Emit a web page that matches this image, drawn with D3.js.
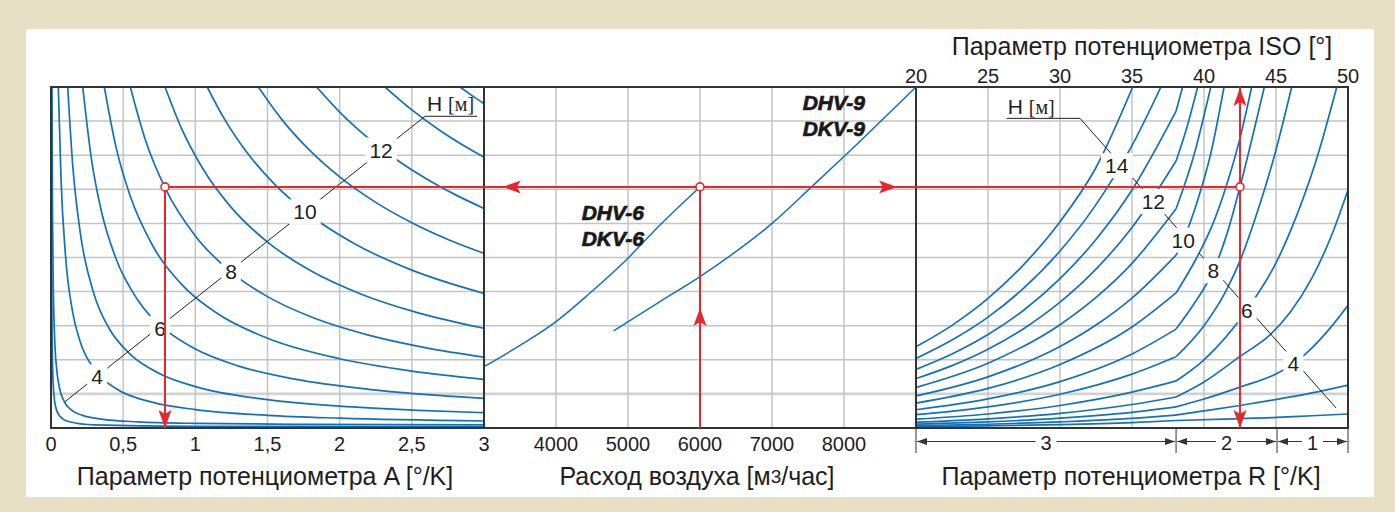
<!DOCTYPE html>
<html>
<head>
<meta charset="utf-8">
<script src="https://cdn.jsdelivr.net/npm/d3@7"></script>
<style>
  body { margin: 0; background: #e8e0c4; }
  svg { display: block; font-family: "Liberation Sans", Arial, sans-serif; }
</style>
</head>
<body>
<svg id="chart" width="1395" height="512"></svg>
<script>
// ---------- data ----------
const aTicks = [0, 0.5, 1, 1.5, 2, 2.5, 3];
const aTickLabels = ["0", "0,5", "1", "1,5", "2", "2,5", "3"];
const flowTicks = [4000, 5000, 6000, 7000, 8000];
const isoTicks = [20, 25, 30, 35, 40, 45, 50];
const yGrid = [1, 2, 3, 4, 5, 6, 7, 8, 9];
const rZones = [
  { label: "3", from: 20, to: 38.06 },
  { label: "2", from: 38.06, to: 45.07 },
  { label: "1", from: 45.07, to: 50 }
];

// Left panel: head H [m] vs potentiometer A [°/K]
const leftCurves = [
  { h: 2,  pts: [[0.002,10],[0.004,5.0],[0.008,2.5],[0.015,1.3],[0.03,0.66],[0.06,0.35],[0.12,0.19],[0.3,0.09],[1,0.05],[3,0.037]] },
  { h: 3,  pts: [[0.0066,10],[0.01,6.57],[0.015,4.40],[0.025,2.67],[0.04,1.70],[0.06,1.15],[0.09,0.79],[0.14,0.53],[0.22,0.37],[0.35,0.26],[0.6,0.18],[1.0,0.135],[1.8,0.106],[3,0.092]] },
  { h: 4,  pts: [[0.0506,10],[0.07,7.24],[0.1,5.08],[0.15,3.40],[0.2,2.56],[0.3,1.72],[0.45,1.157],[0.7,0.757],[1.0,0.541],[1.5,0.373],[2.0,0.289],[3.0,0.205]] },
  { h: 5,  pts: [[0.1157,10],[0.15,7.73],[0.2,5.81],[0.3,3.90],[0.4,2.94],[0.55,2.16],[0.75,1.60],[1.0,1.215],[1.5,0.832],[2.0,0.64],[2.5,0.526],[3,0.449]] },
  { h: 6,  pts: [[0.22,10],[0.28,7.89],[0.35,6.34],[0.45,4.97],[0.6,3.76],[0.8,2.86],[1.0,2.316],[1.3,1.816],[1.7,1.424],[2.2,1.134],[3,0.871]] },
  { h: 7,  pts: [[0.3693,10],[0.45,8.245],[0.55,6.787],[0.7,5.381],[0.9,4.235],[1.15,3.363],[1.5,2.631],[2.0,2.03],[2.5,1.669],[3,1.428]] },
  { h: 8,  pts: [[0.5495,10],[0.65,8.5],[0.8,6.96],[1.0,5.63],[1.25,4.564],[1.5,3.853],[1.8,3.261],[2.2,2.723],[2.6,2.35],[3,2.077]] },
  { h: 9,  pts: [[0.79,10],[0.9,8.823],[1.05,7.619],[1.25,6.463],[1.5,5.452],[1.8,4.609],[2.15,3.923],[2.55,3.37],[3,2.924]] },
  { h: 10, pts: [[1.0824,10],[1.2,9.072],[1.35,8.123],[1.55,7.143],[1.8,6.224],[2.1,5.411],[2.5,4.63],[3,3.947]] },
  { h: 11, pts: [[1.4363,10],[1.6,9.043],[1.8,8.11],[2.0,7.363],[2.25,6.616],[2.5,6.019],[2.75,5.53],[3,5.123]] },
  { h: 12, pts: [[1.84,10],[2.0,9.265],[2.2,8.495],[2.4,7.853],[2.6,7.309],[2.8,6.844],[3,6.44]] },
  { h: 13, pts: [[2.314,10],[2.5,9.329],[2.7,8.711],[2.85,8.304],[3,7.938]] },
  { h: 14, pts: [[2.834,10],[2.92,9.74],[3,9.513]] }
];
const leftLabels = [
  { h: 12, a: 2.287, y: 8.15 },
  { h: 10, a: 1.76,  y: 6.34 },
  { h: 8,  a: 1.247, y: 4.60 },
  { h: 6,  a: 0.755, y: 2.93 },
  { h: 4,  a: 0.319, y: 1.50 }
];
const leftLeader = [[0.097, 0.773], [2.592, 9.141], [2.952, 9.141]];

// Middle panel: air flow [m3/h]
const flowCurves = [
  { name: ["DHV-6", "DKV-6"], text: [4357, 6.10], pts: [[3000,1.80],[3500,2.42],[4000,3.12],[4472,3.96],[5000,4.98],[5400,5.86],[6000,7.07]] },
  { name: ["DHV-9", "DKV-9"], text: [7426, 9.33], pts: [[4800,2.85],[5400,3.65],[6000,4.44],[7000,6.0],[7550,7.07],[8000,7.96],[9000,10]] }
];

// Right panel: head H [m] vs ISO setting [°]; slope changes at the R zone boundary
const rightCurves = [
  { h: 15, pts: [[20,2.38],[22.5,3.01],[25,3.80],[27.5,4.80],[30,6.05],[32.5,7.64],[35.05,10]] },
  { h: 14, pts: [[20,2.04],[22.5,2.58],[25,3.25],[27.5,4.11],[30,5.19],[32.5,6.55],[35,8.28],[37.01,10]] },
  { h: 13, pts: [[20,1.72],[22.5,2.17],[25,2.74],[27.5,3.46],[30,4.38],[32.5,5.53],[35,6.98],[38.06,9.29],[38.51,10]] },
  { h: 12, pts: [[20,1.45],[22.5,1.83],[25,2.31],[27.5,2.92],[30,3.69],[32.5,4.66],[35,5.88],[38.06,7.83],[38.8,8.8],[39.56,10]] },
  { h: 11, pts: [[20,1.19],[25,1.90],[30,3.03],[32.5,3.83],[35,4.83],[38.06,6.43],[39.3,8.0],[40.47,10]] },
  { h: 10, pts: [[20,0.94],[25,1.50],[30,2.39],[32.5,3.02],[35,3.81],[38.06,5.07],[38.56,5.51],[39.5,6.6],[40.5,8.1],[41.39,10]] },
  { h: 9,  pts: [[20,0.73],[25,1.16],[30,1.86],[35,2.96],[38.06,3.96],[39.5,5.0],[40.63,6.0],[41.7,7.3],[42.5,8.5],[43.31,10]] },
  { h: 8,  pts: [[20,0.535],[25,0.853],[30,1.36],[35,2.17],[38.06,2.9],[39.4,3.7],[40.65,4.61],[41.6,5.7],[42.5,7.07],[43.4,8.6],[44.19,10]] },
  { h: 7,  pts: [[20,0.39],[25,0.62],[30,0.99],[35,1.58],[38.06,2.09],[40,3.0],[41.5,4.0],[42.5,4.9],[43.6,6.2],[44.9,8.0],[46.09,10]] },
  { h: 6,  pts: [[20,0.26],[25,0.41],[30,0.66],[35,1.05],[38.06,1.38],[40,2.0],[42.97,3.46],[45.07,4.9],[46.5,6.3],[47.9,8.0],[49.22,10]] },
  { h: 5,  pts: [[20,0.17],[25,0.27],[30,0.43],[35,0.69],[38.06,0.91],[40,1.35],[42.5,2.1],[44.58,2.73],[46,3.4],[47.5,4.4],[49,5.8],[50,6.98]] },
  { h: 4,  pts: [[20,0.115],[25,0.18],[30,0.29],[35,0.46],[38.06,0.62],[40,0.85],[42.5,1.2],[45.07,1.6],[46.2,1.88],[47.5,2.35],[48.8,2.95],[50,3.6]] },
  { h: 3,  pts: [[20,0.07],[25,0.11],[30,0.18],[35,0.28],[38.06,0.38],[40,0.5],[42.5,0.66],[45.07,0.84],[47.5,1.03],[50,1.26]] },
  { h: 2,  pts: [[20,0.04],[25,0.065],[30,0.10],[35,0.16],[38.06,0.22],[42,0.27],[45.07,0.31],[47.5,0.36],[50,0.41]] }
];
const rightLabels = [
  { h: 14, iso: 33.94, y: 7.69 },
  { h: 12, iso: 36.48, y: 6.64 },
  { h: 10, iso: 38.56, y: 5.51 },
  { h: 8,  iso: 40.65, y: 4.61 },
  { h: 6,  iso: 42.97, y: 3.46 },
  { h: 4,  iso: 46.2,  y: 1.88 }
];
const rightLeader = [[26.3, 9.08], [31.39, 9.08], [49.17, 0.587]];

// Worked example: A = 0.79 °/K, 6000 m3/h, H = 8 m, ISO = 42.5°
const example = { a: 0.79, flow: 6000, iso: 42.5, y: 7.07, upArrowY: 3.52, leftArrowFlow: 3260, rightArrowFlow: 8736 };

// ---------- layout ----------
const plotTop = 87, plotBottom = 428;
const y = d3.scaleLinear().domain([0, 10]).range([plotBottom, plotTop]);
const xA = d3.scaleLinear().domain([0, 3]).range([51, 484]);
const xF = d3.scaleLinear().domain([3000, 9000]).range([484, 916]);
const xI = d3.scaleLinear().domain([20, 50]).range([916, 1348]);

const BLUE = "#1471b8", RED = "#e8262e", GRID = "#c4c4c4", INK = "#1e1e1e";

const svg = d3.select("#chart");
svg.append("rect").attr("width", 1395).attr("height", 512).attr("fill", "#e8e0c4");
svg.append("rect").attr("x", 26).attr("y", 29).attr("width", 1348).attr("height", 468).attr("fill", "#fff");

const defs = svg.append("defs");
[["clipL", xA], ["clipM", xF], ["clipR", xI]].forEach(([id, sc]) => {
  defs.append("clipPath").attr("id", id).append("rect")
    .attr("x", sc.range()[0]).attr("y", plotTop).attr("width", sc.range()[1] - sc.range()[0]).attr("height", plotBottom - plotTop);
});

// grid
const grid = svg.append("g").attr("stroke", GRID).attr("stroke-width", 1.5);
grid.selectAll(".hy").data(yGrid).join("line").attr("class", "hy")
  .attr("x1", 51).attr("x2", 1348).attr("y1", d => y(d)).attr("y2", d => y(d))
  .attr("stroke", d => d === 1 ? "#d2d2d2" : GRID)
  .attr("stroke-width", d => d === 1 ? 2.6 : 1.5);
grid.selectAll(".va").data(aTicks.slice(1, -1)).join("line").attr("class", "va")
  .attr("x1", d => xA(d)).attr("x2", d => xA(d)).attr("y1", plotTop).attr("y2", plotBottom);
grid.selectAll(".vf").data(flowTicks).join("line").attr("class", "vf")
  .attr("x1", d => xF(d)).attr("x2", d => xF(d)).attr("y1", plotTop).attr("y2", plotBottom);
grid.selectAll(".vi").data(isoTicks.slice(1, -1)).join("line").attr("class", "vi")
  .attr("x1", d => xI(d)).attr("x2", d => xI(d)).attr("y1", plotTop).attr("y2", plotBottom);

// curves
const lineA = d3.line().x(d => xA(d[0])).y(d => y(d[1])).curve(d3.curveMonotoneX);
const lineF = d3.line().x(d => xF(d[0])).y(d => y(d[1])).curve(d3.curveMonotoneX);
const lineI = d3.line().x(d => xI(d[0])).y(d => y(d[1])).curve(d3.curveMonotoneX);

svg.append("g").attr("clip-path", "url(#clipL)").selectAll("path").data(leftCurves).join("path")
  .attr("d", d => lineA(d.pts)).attr("fill", "none").attr("stroke", BLUE).attr("stroke-width", 1.7);
svg.append("g").attr("clip-path", "url(#clipM)").selectAll("path").data(flowCurves).join("path")
  .attr("d", d => lineF(d.pts)).attr("fill", "none").attr("stroke", BLUE).attr("stroke-width", 1.5);

// right curves: each drawn as two smooth pieces meeting at the zone-3/zone-2 boundary
const kink = rZones[0].to;
const rightPieces = [];
rightCurves.forEach(c => {
  const a = c.pts.filter(p => p[0] <= kink), b = c.pts.filter(p => p[0] >= kink);
  if (a.length > 1) rightPieces.push(a);
  if (b.length > 1) rightPieces.push(b);
});
svg.append("g").attr("clip-path", "url(#clipR)").selectAll("path").data(rightPieces).join("path")
  .attr("d", d => lineI(d)).attr("fill", "none").attr("stroke", BLUE).attr("stroke-width", 1.7)
  .attr("stroke-linejoin", "round");

// leader lines for H labels
const leaderL = d3.line().x(d => xA(d[0])).y(d => y(d[1]));
const leaderR = d3.line().x(d => xI(d[0])).y(d => y(d[1]));
svg.append("path").attr("d", leaderL(leftLeader)).attr("fill", "none").attr("stroke", "#222").attr("stroke-width", 1);
svg.append("path").attr("d", leaderR(rightLeader)).attr("fill", "none").attr("stroke", "#222").attr("stroke-width", 1);

// label with white knock-out background
function knockLabel(g, x, yy, txt, size, padX, padY) {
  const grp = g.append("g");
  const bg = grp.append("rect").attr("fill", "#fff");
  const t = grp.append("text").attr("x", x).attr("y", yy).attr("text-anchor", "middle")
    .attr("dominant-baseline", "central").attr("font-size", size).attr("fill", INK).text(txt);
  const b = t.node().getBBox();
  bg.attr("x", b.x - padX).attr("y", b.y - padY).attr("width", b.width + 2 * padX).attr("height", b.height + 2 * padY);
  return grp;
}
const labG = svg.append("g");
leftLabels.forEach(d => knockLabel(labG, xA(d.a), y(d.y), d.h, 21, 4, 1));
rightLabels.forEach(d => knockLabel(labG, xI(d.iso), y(d.y), d.h, 21, 4, 1));

// "H [м]" captions
function hCaption(x, yy, anchor) {
  const t = svg.append("text").attr("x", x).attr("y", yy).attr("font-size", 21).attr("fill", INK)
    .attr("text-anchor", anchor);
  t.append("tspan").text("H ");
  t.append("tspan").attr("font-family", "Liberation Serif, serif").attr("font-size", 20).text("[м]");
}
hCaption(xA(leftLeader[2][0]) - 3, y(leftLeader[1][1]) - 5, "end");
hCaption(xI(rightLeader[0][0]) + 1, y(rightLeader[0][1]) - 4, "start");

// model names
flowCurves.forEach(d => {
  const t = svg.append("text").attr("x", xF(d.text[0])).attr("y", y(d.text[1]))
    .attr("font-size", 21).attr("font-weight", "bold").attr("font-style", "italic")
    .attr("fill", "#1a1a1a").attr("stroke", "#1a1a1a").attr("stroke-width", 0.7);
  t.append("tspan").text(d.name[0]);
  t.append("tspan").attr("x", xF(d.text[0])).attr("dy", 26).text(d.name[1]);
});

// panel frames
const frame = svg.append("g").attr("fill", "none").attr("stroke", "#333").attr("stroke-width", 2);
frame.append("rect").attr("x", 51).attr("y", plotTop).attr("width", 1348 - 51).attr("height", plotBottom - plotTop);
frame.append("line").attr("x1", 484).attr("x2", 484).attr("y1", plotTop).attr("y2", plotBottom);
frame.append("line").attr("x1", 916).attr("x2", 916).attr("y1", plotTop).attr("y2", plotBottom);

// red example path
const red = svg.append("g");
const ex = xA(example.a), ey = y(example.y), fx = xF(example.flow), ix = xI(example.iso);
red.append("line").attr("x1", ex).attr("x2", ix).attr("y1", ey).attr("y2", ey).attr("stroke", RED).attr("stroke-width", 2);
red.append("line").attr("x1", ex).attr("x2", ex).attr("y1", ey).attr("y2", plotBottom).attr("stroke", RED).attr("stroke-width", 2);
red.append("line").attr("x1", fx).attr("x2", fx).attr("y1", ey).attr("y2", plotBottom).attr("stroke", RED).attr("stroke-width", 2);
red.append("line").attr("x1", ix).attr("x2", ix).attr("y1", plotTop).attr("y2", plotBottom).attr("stroke", RED).attr("stroke-width", 2);

function arrow(x, yy, dir) {
  const L = 18, W = 6.5;
  let p;
  if (dir === "down") p = [[x, yy], [x - W, yy - L], [x, yy - L + 4], [x + W, yy - L]];
  if (dir === "up") p = [[x, yy], [x - W, yy + L], [x, yy + L - 4], [x + W, yy + L]];
  if (dir === "left") p = [[x, yy], [x + L, yy - W], [x + L - 4, yy], [x + L, yy + W]];
  if (dir === "right") p = [[x, yy], [x - L, yy - W], [x - L + 4, yy], [x - L, yy + W]];
  red.append("path").attr("d", "M" + p.join("L") + "Z").attr("fill", RED);
}
arrow(ex, plotBottom, "down");
arrow(fx, y(example.upArrowY), "up");
arrow(xF(example.leftArrowFlow), ey, "left");
arrow(xF(example.rightArrowFlow), ey, "right");
arrow(ix, plotTop + 1, "up");
arrow(ix, plotBottom, "down");
[ex, fx, ix].forEach(cx => red.append("circle").attr("cx", cx).attr("cy", ey).attr("r", 4)
  .attr("fill", "#fff").attr("stroke", RED).attr("stroke-width", 1.6));

// tick labels
const tickG = svg.append("g").attr("font-size", 20).attr("fill", INK).attr("text-anchor", "middle");
tickG.selectAll(".ta").data(aTicks).join("text").attr("class", "ta").attr("x", d => xA(d)).attr("y", 451).text((d, i) => aTickLabels[i]);
tickG.selectAll(".tf").data(flowTicks).join("text").attr("class", "tf").attr("x", d => xF(d)).attr("y", 451).text(d => d);
tickG.selectAll(".ti").data(isoTicks).join("text").attr("class", "ti").attr("x", d => xI(d)).attr("y", 83).text(d => d);

// R zones dimension line
const dimY = 441.5;
const dim = svg.append("g").attr("stroke", "#333").attr("stroke-width", 1);
const zoneEdges = [20, 38.06, 45.07, 50];
dim.selectAll(".ext").data(zoneEdges).join("line").attr("class", "ext")
  .attr("x1", d => xI(d)).attr("x2", d => xI(d)).attr("y1", plotBottom).attr("y2", 453);
rZones.forEach(z => {
  const x0 = xI(z.from), x1 = xI(z.to);
  dim.append("line").attr("x1", x0 + 1).attr("x2", x1 - 1).attr("y1", dimY).attr("y2", dimY);
  dim.append("path").attr("d", `M${x0 + 1},${dimY}L${x0 + 11},${dimY - 3.5}L${x0 + 11},${dimY + 3.5}Z`).attr("fill", "#333").attr("stroke", "none");
  dim.append("path").attr("d", `M${x1 - 1},${dimY}L${x1 - 11},${dimY - 3.5}L${x1 - 11},${dimY + 3.5}Z`).attr("fill", "#333").attr("stroke", "none");
  knockLabel(svg, (x0 + x1) / 2, dimY + 1, z.label, 20, 5, -2);
});

// axis titles
const titleG = svg.append("g").attr("font-size", 25).attr("fill", INK).attr("text-anchor", "middle");
titleG.append("text").attr("x", 265).attr("y", 485).text("Параметр потенциометра A [°/K]");
const mt = titleG.append("text").attr("x", 697).attr("y", 485);
mt.append("tspan").text("Расход воздуха [м");
mt.append("tspan").attr("font-size", 19).attr("dy", -2).text("3");
mt.append("tspan").attr("dy", 2).text("/час]");
titleG.append("text").attr("x", 1131).attr("y", 485).text("Параметр потенциометра R [°/K]");
titleG.append("text").attr("x", 1142).attr("y", 55).text("Параметр потенциометра ISO [°]");
</script>
</body>
</html>
